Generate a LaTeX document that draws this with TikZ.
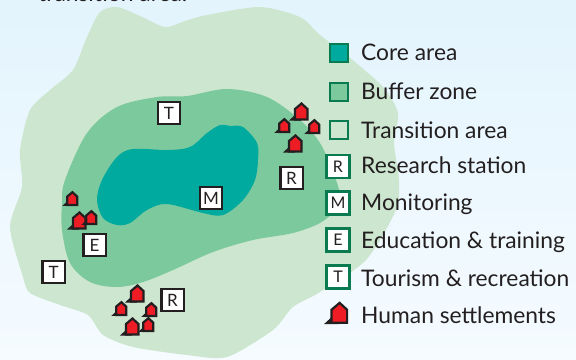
\documentclass[tikz,border=0pt]{standalone}
\usepackage{fontspec}
\setmainfont{Lato}
\definecolor{bgtop}{HTML}{E3F4FD}
\definecolor{bgbot}{HTML}{F5FBFF}
\definecolor{outerz}{HTML}{CDE6CF}
\definecolor{bufferz}{HTML}{7CC99D}
\definecolor{corez}{HTML}{00AA9E}
\definecolor{frameg}{HTML}{0A7A50}
\definecolor{inkd}{HTML}{231F20}
\definecolor{housered}{HTML}{EE1C25}
\tikzset{
  x=1pt,y=-1pt,
  mapbox/.style={draw=inkd,line width=2.4pt,fill=white,minimum size=22.4pt,inner sep=0pt,text=inkd,font=\fontsize{17}{17}\selectfont},
  keybox/.style={draw=frameg,line width=2.4pt,fill=white,minimum size=23pt,inner sep=0pt,text=inkd,font=\fontsize{16}{16}\selectfont},
  swatch/.style={draw=frameg,line width=2.2pt,minimum size=18pt,inner sep=0pt},
  keytext/.style={anchor=base west,inner sep=0pt,text=inkd,font=\fontsize{22.8}{24}\selectfont},
  pics/house/.style={code={
    \fill[inkd] (-6,13) -- (-12,18.5) -- (0,18.5) -- (0,9) -- cycle;
    \draw[inkd,line width=2.2pt,fill=housered,miter limit=10] (0.5,1.5) -- (6.5,7) -- (6.5,17.4) -- (-6,17.4) -- (-6,7) -- cycle;
  }}
}
\begin{document}
\begin{tikzpicture}
\useasboundingbox (0,0) rectangle (576,359);
\shade[top color=bgtop,bottom color=bgbot] (0,0) rectangle (576,359);
\begin{scope}
\clip (0,0) rectangle (576,359);
\node[keytext] (cutoff) at (38,1.5) {transition area.};
\fill[outerz] plot[smooth cycle,tension=0.45] coordinates {
 (117,7) (140,16) (165,27) (185,21) (207,15) (260,7) (300,17) (320,35) (349,57) (383,87) (398,113) (394,143) (399,180) (396,210) (366,260) (320,292) (293,307) (273,330) (227,357) (187,355) (133,347) (103,335) (88,315) (60,305) (30,293) (23,277) (10,227) (22,187) (20,150) (30,110) (50,90) (73,70) (87,37) (100,12)};
\fill[bufferz] plot[smooth cycle,tension=0.55] coordinates {
 (65,180) (87,133) (117,107) (157,97) (187,96) (227,89) (267,97) (300,120) (320,143) (333,172) (340,195) (335,210) (320,223) (293,233) (253,240) (213,252) (173,270) (143,282) (117,287) (90,282) (70,263) (62,230) (62,203)};
\fill[corez] plot[smooth cycle,tension=0.55] coordinates {
 (102,180) (117,157) (133,149) (167,150) (190,147) (207,133) (220,125) (230,126) (243,127) (257,143) (258,160) (255,180) (243,200) (223,215) (203,213) (167,204) (147,210) (130,223) (117,225) (103,218) (97,200)};
\end{scope}
\node[mapbox] (t1) at (169,113) {T};
\node[mapbox] (r1) at (291.5,178) {R};
\node[mapbox] (m1) at (211,198) {M};
\node[mapbox] (e1) at (94.5,245) {E};
\node[mapbox] (t2) at (53.7,272) {T};
\node[mapbox] (r2) at (172.5,300) {R};
\pic at (301,102) {house};
\pic[scale=.8] at (284,118) {house};
\pic[scale=.8] at (314,119) {house};
\pic at (295,134) {house};
\pic[scale=.8] at (72,191) {house};
\pic at (79,211) {house};
\pic[scale=.8] at (91,210) {house};
\pic at (137,284) {house};
\pic[scale=.8] at (121,301) {house};
\pic[scale=.8] at (151,302) {house};
\pic at (132,317) {house};
\pic[scale=.8] at (148,317) {house};
\node[swatch,fill=corez] (kc) at (339,53) {};
\node[swatch,fill=bufferz] (kb) at (339,92) {};
\node[swatch,fill=outerz] (kt) at (339,130) {};
\node[keybox] (kr) at (338,166.5) {R};
\node[keybox] (km) at (338,203) {M};
\node[keybox] (ke) at (338,240) {E};
\node[keybox] (ktt) at (338,277) {T};
\pic[scale=1.25] at (339,301) {house};
\node[keytext] (l1) at (361,60) {Core area};
\node[keytext] (l2) at (361,99) {Buffer zone};
\node[keytext] (l3) at (361,138) {Transition area};
\node[keytext] (l4) at (361,173) {Research station};
\node[keytext] (l5) at (361,210) {Monitoring};
\node[keytext] (l6) at (361,248) {Education \& training};
\node[keytext] (l7) at (361,286) {Tourism \& recreation};
\node[keytext] (l8) at (361,323) {Human settlements};
\end{tikzpicture}
\end{document}
